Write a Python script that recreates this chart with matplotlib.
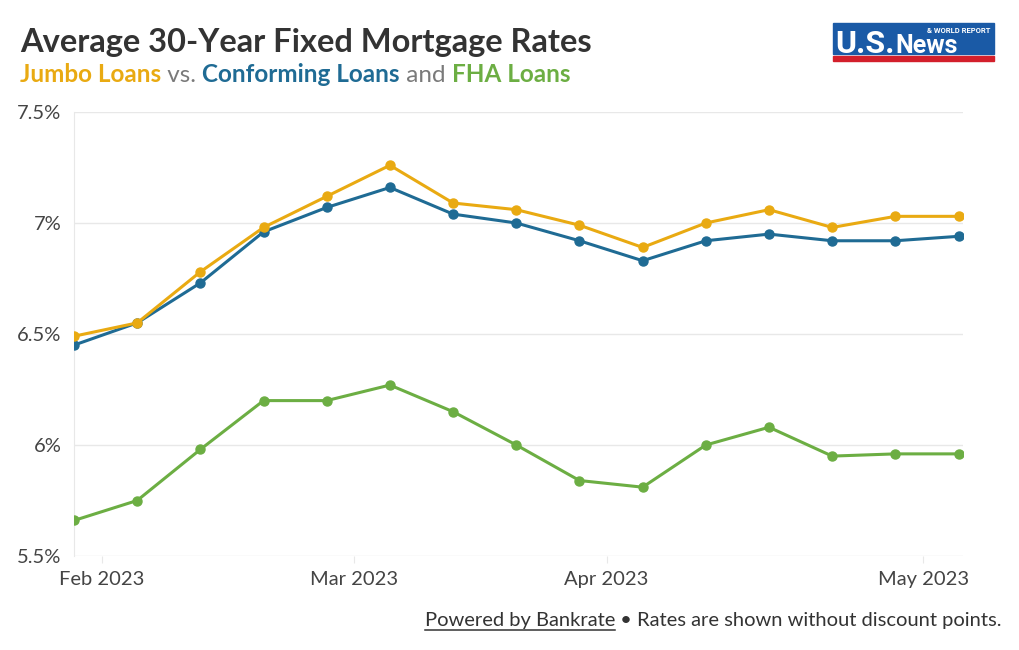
import numpy as np
import matplotlib
matplotlib.use('Agg')
import matplotlib.pyplot as plt
from matplotlib.patches import Rectangle
from matplotlib.lines import Line2D

plt.rcParams['font.family'] = ['Lato', 'DejaVu Sans']

# weekly observations (index along x)
weeks = np.arange(15)
jumbo = [6.49, 6.55, 6.78, 6.98, 7.12, 7.26, 7.09, 7.06, 6.99, 6.89, 7.00, 7.06, 6.98, 7.03, 7.03]
conforming = [6.45, 6.55, 6.73, 6.96, 7.07, 7.16, 7.04, 7.00, 6.92, 6.83, 6.92, 6.95, 6.92, 6.92, 6.94]
fha = [5.66, 5.75, 5.98, 6.20, 6.20, 6.27, 6.15, 6.00, 5.84, 5.81, 6.00, 6.08, 5.95, 5.96, 5.96]

month_ticks = [0.44, 4.43, 8.43, 13.44]
month_labels = ['Feb 2023', 'Mar 2023', 'Apr 2023', 'May 2023']
y_ticks = [5.5, 6.0, 6.5, 7.0, 7.5]
y_labels = ['5.5%', '6%', '6.5%', '7%', '7.5%']

c_jumbo = '#E9AA12'
c_conf = '#1F6B94'
c_fha = '#6CAE43'
c_text = '#333333'
c_grid = '#E8E8E8'

W, H = 1020, 650
fig = plt.figure(figsize=(W / 100, H / 100), dpi=100)
fig.patch.set_facecolor('white')
ax = fig.add_axes([74 / W, (H - 556) / H, (963 - 74) / W, (556 - 112) / H])

ax.plot(weeks, fha, color=c_fha, lw=2.2, marker='o', ms=6.5, zorder=3)
ax.plot(weeks, conforming, color=c_conf, lw=2.2, marker='o', ms=6.5, zorder=4)
ax.plot(weeks, jumbo, color=c_jumbo, lw=2.2, marker='o', ms=6.5, zorder=5)

ax.set_xlim(0, 14.07)
ax.set_ylim(5.5, 7.5)
ax.set_yticks(y_ticks)
ax.set_yticklabels(y_labels)
ax.set_xticks(month_ticks)
ax.set_xticklabels(month_labels)
ax.grid(axis='y', color=c_grid, lw=1)
ax.set_axisbelow(True)
for s in ['top', 'right', 'bottom']:
    ax.spines[s].set_visible(False)
ax.spines['left'].set_color(c_grid)
ax.spines['left'].set_zorder(0)
ax.tick_params(axis='y', length=0, pad=9, labelsize=14.5, labelcolor='#444444')
ax.tick_params(axis='x', length=5, color=c_grid, pad=6, labelsize=14.5, labelcolor='#444444')

# title
fig.text(20 / W, 1 - 52 / H, 'Average 30-Year Fixed Mortgage Rates', fontsize=23.5, fontweight='bold',
         color=c_text, ha='left', va='baseline')

# coloured subtitle built piece by piece
fig.canvas.draw()
r = fig.canvas.get_renderer()
parts = [('Jumbo Loans', c_jumbo, 'bold'), (' vs. ', '#7A7A7A', 'normal'),
         ('Conforming Loans', c_conf, 'bold'), (' and ', '#7A7A7A', 'normal'),
         ('FHA Loans', c_fha, 'bold')]
x = 20
for txt, col, wt in parts:
    t = fig.text(x / W, 1 - 82 / H, txt, fontsize=17.5, color=col, fontweight=wt, ha='left', va='baseline')
    bb = t.get_window_extent(renderer=r)
    x += bb.width

# footer
t2 = fig.text(1002 / W, 1 - 626 / H, ' \u2022 Rates are shown without discount points.', fontsize=14.5,
              color=c_text, ha='right', va='baseline')
bb2 = t2.get_window_extent(renderer=r)
t1 = fig.text(bb2.x0 / W, 1 - 626 / H, 'Powered by Bankrate', fontsize=14.5, color=c_text,
              ha='right', va='baseline')
bb1 = t1.get_window_extent(renderer=r)
fig.add_artist(Line2D([bb1.x0 / W, bb1.x1 / W], [(H - 630) / H, (H - 630) / H],
                      color=c_text, lw=1.1, transform=fig.transFigure))

# US News logo
fig.add_artist(Rectangle((833 / W, (H - 54) / H), 161 / W, 31 / H, color='#1A5AA6',
                         transform=fig.transFigure))
fig.add_artist(Rectangle((833 / W, (H - 61) / H), 161 / W, 5 / H, color='#D31F2B',
                         transform=fig.transFigure))
tu = fig.text(835 / W, 1 - 53 / H, 'U.S.', fontsize=23, fontweight='bold', color='white',
              ha='left', va='baseline', family='Roboto')
bbu = tu.get_window_extent(renderer=r)
fig.text((bbu.x1 + 1) / W, 1 - 53 / H, 'News', fontsize=18, fontweight='bold', color='white',
         ha='left', va='baseline', family='Roboto')
fig.text(990 / W, 1 - 33 / H, '& WORLD REPORT', fontsize=5.5, fontweight='bold', color='white',
         ha='right', va='baseline', family='Roboto')

fig.savefig('out.png', dpi=100)
